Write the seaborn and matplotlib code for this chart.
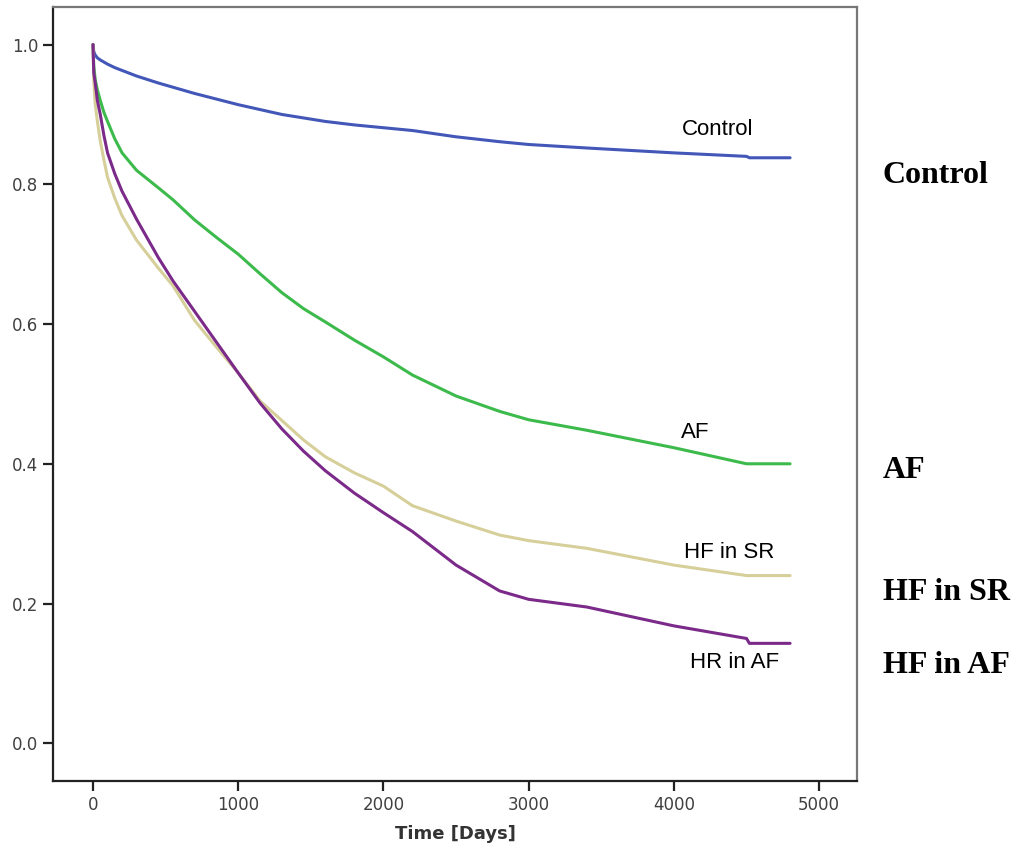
import matplotlib
matplotlib.use("Agg")
import matplotlib.pyplot as plt
import pandas as pd
import seaborn as sns

# survival curves
days = [0, 5, 15, 30, 50, 75, 100, 150, 200, 300, 450, 550, 700, 850, 1000,
        1150, 1300, 1450, 1600, 1800, 2000, 2200, 2500, 2800, 3000, 3400,
        4000, 4500, 4520, 4800]
control = [1.0, 0.99, 0.985, 0.981, 0.978, 0.975, 0.972, 0.967, 0.963, 0.955,
           0.945, 0.939, 0.93, 0.922, 0.914, 0.907, 0.90, 0.895, 0.89, 0.885,
           0.881, 0.877, 0.868, 0.861, 0.857, 0.852, 0.845, 0.840, 0.838, 0.838]
af = [1.0, 0.97, 0.95, 0.935, 0.92, 0.903, 0.89, 0.865, 0.845, 0.82,
      0.795, 0.778, 0.749, 0.724, 0.70, 0.672, 0.645, 0.622, 0.603, 0.577,
      0.553, 0.527, 0.497, 0.475, 0.463, 0.448, 0.423, 0.40, 0.40, 0.40]
hf_sr = [1.0, 0.95, 0.915, 0.89, 0.862, 0.835, 0.81, 0.78, 0.755, 0.72,
         0.68, 0.655, 0.605, 0.567, 0.53, 0.49, 0.462, 0.434, 0.41, 0.387,
         0.368, 0.34, 0.318, 0.298, 0.29, 0.279, 0.255, 0.240, 0.240, 0.240]
hf_af = [1.0, 0.96, 0.945, 0.92, 0.90, 0.87, 0.845, 0.815, 0.79, 0.75,
         0.695, 0.662, 0.618, 0.574, 0.53, 0.487, 0.45, 0.418, 0.39, 0.358,
         0.33, 0.303, 0.255, 0.218, 0.206, 0.195, 0.168, 0.150, 0.143, 0.143]

groups = ["Control", "AF", "HF in SR", "HR in AF"]
side_labels = ["Control", "AF", "HF in SR", "HF in AF"]
palette = {"Control": "#4257b8", "AF": "#3dba4c", "HF in SR": "#d7cf9a", "HR in AF": "#7b2a8a"}

rows = []
for g, vals in zip(groups, [control, af, hf_sr, hf_af]):
    for d, v in zip(days, vals):
        rows.append({"Time [Days]": d, "Survival": v, "group": g})
df = pd.DataFrame(rows)

sns.set_style("white")
fig = plt.figure(figsize=(10.18, 8.57), dpi=100)
ax = fig.add_axes([0.052, 0.0887, 0.79, 0.9033])

sns.lineplot(data=df, x="Time [Days]", y="Survival", hue="group", palette=palette,
             linewidth=2.2, legend=False, ax=ax, estimator=None, sort=False)

ax.set_xlim(-276, 5262)
ax.set_ylim(-0.054, 1.054)
ax.set_xticks([0, 1000, 2000, 3000, 4000, 5000])
ax.set_yticks([0.0, 0.2, 0.4, 0.6, 0.8, 1.0])
ax.set_yticklabels(["0.0", "0.2", "0.4", "0.6", "0.8", "1.0"])
ax.set_ylabel("")
ax.set_xlabel("Time [Days]", fontsize=13, fontweight="bold", color="#333333", labelpad=8)
ax.tick_params(axis="both", direction="out", length=7, width=1.6, colors="#222222",
               labelsize=12, labelcolor="#404040", left=True, bottom=True)

for side in ["left", "bottom"]:
    ax.spines[side].set_color("#222222")
    ax.spines[side].set_linewidth(1.6)
for side in ["top", "right"]:
    ax.spines[side].set_color("#777777")
    ax.spines[side].set_linewidth(1.6)

# labels next to curve ends
inner = [("Control", 4300, 0.878), ("AF", 4150, 0.445), ("HF in SR", 4380, 0.273), ("HR in AF", 4420, 0.115)]
for txt, x, y in inner:
    ax.text(x, y, txt, fontsize=16, family="Liberation Sans", ha="center", va="center", color="black")

# bold labels outside the frame
side_y = [0.802, 0.380, 0.205, 0.100]
for txt, y in zip(side_labels, side_y):
    ax.text(1.032, y, txt, transform=ax.get_yaxis_transform(), fontsize=23, fontweight="bold",
            family="Liberation Serif", ha="left", va="baseline", color="black", clip_on=False)

fig.savefig("out.png", dpi=100)
